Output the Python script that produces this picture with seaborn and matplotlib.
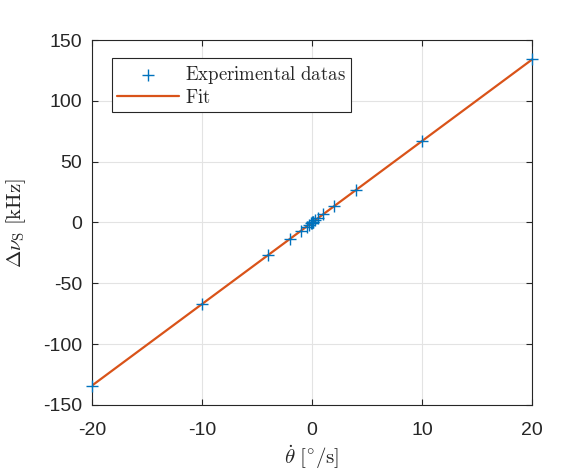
import numpy as np
import pandas as pd
import matplotlib
matplotlib.use("Agg")
import matplotlib.pyplot as plt
import seaborn as sns

rate = [-20, -10, -4, -2, -1, -0.5, -0.25, -0.1, -0.05, 0, 0.05, 0.1, 0.25, 0.5, 1, 2, 4, 10, 20]
dnu = [-134, -67, -27, -13.5, -6.7, -3.4, -1.7, -0.7, -0.35, 0, 0.35, 0.7, 1.7, 3.4, 6.7, 13.5, 27, 67, 134]
fit_x = [-20, 20]
fit_y = [-134, 134]
xticks = [-20, -10, 0, 10, 20]
yticks = [-150, -100, -50, 0, 50, 100, 150]

sns.set_style("whitegrid")
plt.rcParams['font.family'] = ['Liberation Sans', 'DejaVu Sans']
plt.rcParams['mathtext.fontset'] = 'cm'
plt.rcParams['axes.unicode_minus'] = False

fig = plt.figure(figsize=(5.79, 4.73), dpi=100)
ax = fig.add_axes([0.159, 0.1438, 0.76, 0.7716])

df = pd.DataFrame({"x": rate, "y": dnu})
fd = pd.DataFrame({"x": fit_x, "y": fit_y})
sns.scatterplot(data=df, x="x", y="y", marker="+", s=75, color="#0072BD",
                linewidth=1.0, ax=ax, label=r"$\mathrm{Experimental\ datas}$", zorder=3, clip_on=False)
sns.lineplot(data=fd, x="x", y="y", color="#D95319", linewidth=1.6, ax=ax,
             label=r"$\mathrm{Fit}$", zorder=2)

ax.set_xlim(-20, 20)
ax.set_ylim(-150, 150)
ax.set_xticks(xticks)
ax.set_yticks(yticks)
ax.tick_params(axis='both', labelsize=14, direction='in', length=4, color='#262626',
               top=True, right=True, bottom=True, left=True, labelcolor='#262626')
ax.tick_params(axis='x', pad=12)
ax.tick_params(axis='y', pad=7)
ax.grid(True, color='#e3e3e3', linewidth=0.8)
for s in ax.spines.values():
    s.set_color('#262626')
    s.set_linewidth(0.8)
ax.set_xlabel(r"$\dot{\theta}\ [^{\circ}/\mathrm{s}]$", fontsize=15, color='#262626')
ax.set_ylabel(r"$\Delta\nu_{\mathrm{S}}\ [\mathrm{kHz}]$", fontsize=15, color='#262626')
ax.xaxis.set_label_coords(0.5, -0.104)
ax.yaxis.set_label_coords(-0.145, 0.5)

leg = ax.legend(loc='upper left', bbox_to_anchor=(0.045, 0.95), fontsize=13.5, frameon=True,
                fancybox=False, edgecolor='#262626', framealpha=1, borderpad=0.3,
                handlelength=3.3, handletextpad=0.3, labelspacing=0.15, borderaxespad=0)
leg.get_frame().set_linewidth(0.8)

fig.savefig("out.png", dpi=100)
